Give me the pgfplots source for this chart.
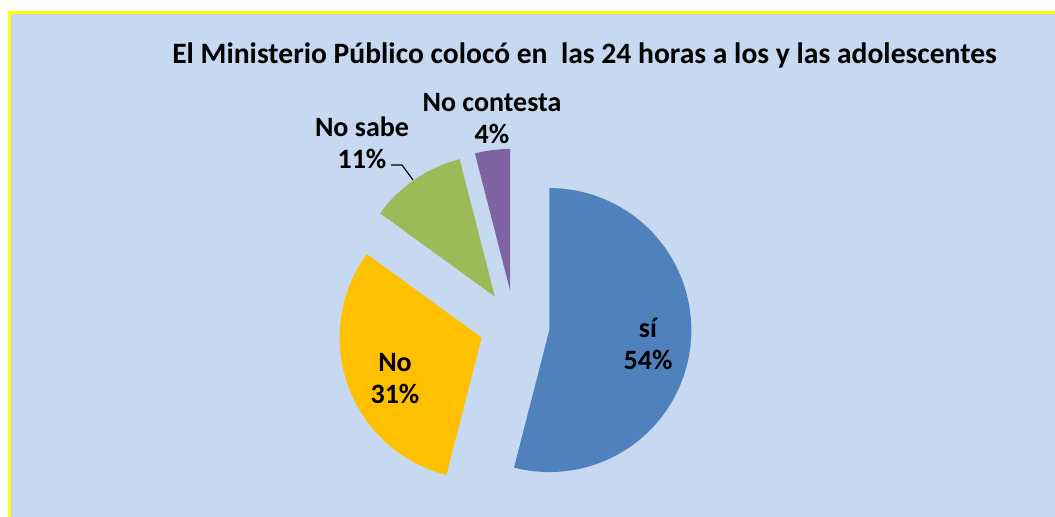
\documentclass[border=0pt]{standalone}
\usepackage{fontspec}
\setmainfont{Carlito}
\usepackage{pgfplots}
\usepackage{pgfplotstable}
\pgfplotsset{compat=1.18}
\definecolor{bg}{HTML}{C6D9F1}
\definecolor{frame}{HTML}{FFFF00}
\definecolor{cSi}{HTML}{4F81BD}
\definecolor{cNo}{HTML}{FFC000}
\definecolor{cNS}{HTML}{9BBB59}
\definecolor{cNC}{HTML}{8064A2}
\pgfplotstableread{
label value
si 54
No 31
NoSabe 11
NoContesta 4
}\piedata
\begin{document}
\begin{tikzpicture}
\pgfplotstablegetelem{0}{value}\of\piedata \let\vA\pgfplotsretval
\pgfplotstablegetelem{1}{value}\of\piedata \let\vB\pgfplotsretval
\pgfplotstablegetelem{2}{value}\of\piedata \let\vC\pgfplotsretval
\pgfplotstablegetelem{3}{value}\of\piedata \let\vD\pgfplotsretval
\def\cx{514.6}\def\cy{191.3}\def\rr{142}\def\ex{35}
\pgfmathsetmacro{\aA}{90}
\pgfmathsetmacro{\aB}{\aA-3.6*\vA}
\pgfmathsetmacro{\aC}{\aB-3.6*\vB}
\pgfmathsetmacro{\aD}{\aC-3.6*\vC}
\pgfmathsetmacro{\aE}{\aD-3.6*\vD}
\pgfmathsetmacro{\xA}{\cx+\ex*cos((\aA+\aB)/2)}\pgfmathsetmacro{\yA}{\cy+\ex*sin((\aA+\aB)/2)}
\pgfmathsetmacro{\xB}{\cx+\ex*cos((\aB+\aC)/2)}\pgfmathsetmacro{\yB}{\cy+\ex*sin((\aB+\aC)/2)}
\pgfmathsetmacro{\xC}{\cx+\ex*cos((\aC+\aD)/2)}\pgfmathsetmacro{\yC}{\cy+\ex*sin((\aC+\aD)/2)}
\pgfmathsetmacro{\xD}{\cx+\ex*cos((\aD+\aE)/2)}\pgfmathsetmacro{\yD}{\cy+\ex*sin((\aD+\aE)/2)}
\fill[white] (0,0) rectangle (527.5pt,258.5pt);
\begin{axis}[scale only axis, width=527.5pt, height=258.5pt,
  xmin=0, xmax=1055, ymin=0, ymax=517, hide axis, clip=false]
\fill[bg] (axis cs:9,0) rectangle (axis cs:1055,505);
\draw[frame, line width=1.1pt] (axis cs:9.5,0) -- (axis cs:9.5,504.5) -- (axis cs:1055,504.5);
\addplot[fill=cSi, draw=none, domain=\aB:\aA, samples=120] ({\xA+\rr*cos(x)},{\yA+\rr*sin(x)}) -- (axis cs:\xA,\yA) -- cycle;
\addplot[fill=cNo, draw=none, domain=\aC:\aB, samples=80] ({\xB+\rr*cos(x)},{\yB+\rr*sin(x)}) -- (axis cs:\xB,\yB) -- cycle;
\addplot[fill=cNS, draw=none, domain=\aD:\aC, samples=40] ({\xC+\rr*cos(x)},{\yC+\rr*sin(x)}) -- (axis cs:\xC,\yC) -- cycle;
\addplot[fill=cNC, draw=none, domain=\aE:\aD, samples=20] ({\xD+\rr*cos(x)},{\yD+\rr*sin(x)}) -- (axis cs:\xD,\yD) -- cycle;
\draw[black, line width=0.6pt] (axis cs:391,352) -- (axis cs:402,352) -- (axis cs:413,337);
\node[font=\bfseries\fontsize{14.8}{17}\selectfont] at (axis cs:584.5,462) {El Ministerio Público colocó en~ las 24 horas a los y las adolescentes};
\node[font=\bfseries\fontsize{14}{16}\selectfont, align=center] at (axis cs:648,173) {sí\\54\%};
\node[font=\bfseries\fontsize{14}{16}\selectfont, align=center] at (axis cs:395,138) {No\\31\%};
\node[font=\bfseries\fontsize{14}{16}\selectfont, align=center] at (axis cs:362,374) {No sabe\\11\%};
\node[font=\bfseries\fontsize{14}{16}\selectfont, align=center] at (axis cs:492,398.5) {No contesta\\4\%};
\end{axis}
\pgfresetboundingbox
\path (0,0) rectangle (527.5pt,258.5pt);
\end{tikzpicture}
\end{document}
